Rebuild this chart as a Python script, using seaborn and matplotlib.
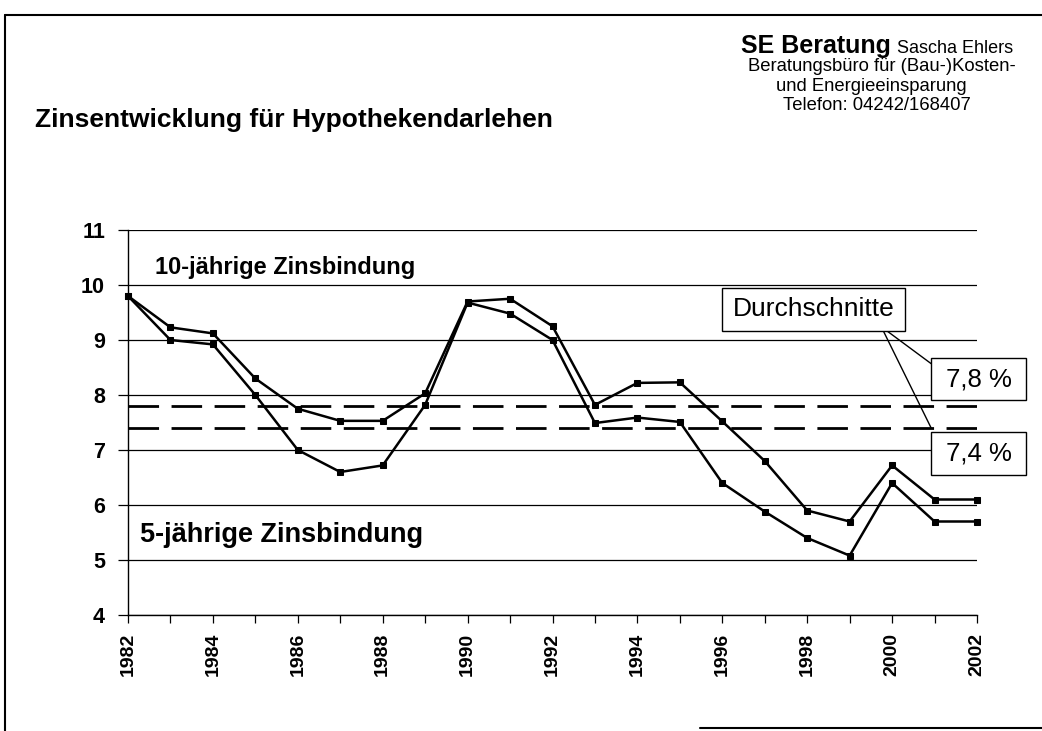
import pandas as pd
import numpy as np
import matplotlib.pyplot as plt
import seaborn as sns
from matplotlib.patches import Rectangle
from matplotlib.lines import Line2D

# Werte (Zinsen in %)
jahre = list(range(1982, 2003))
zins_10_jahre = [9.8, 9.23, 9.12, 8.3, 7.75, 7.53, 7.53, 8.03, 9.7, 9.75, 9.25,
                 7.82, 8.22, 8.23, 7.52, 6.8, 5.9, 5.7, 6.72, 6.1, 6.1]
zins_5_jahre = [9.8, 9.0, 8.92, 8.0, 7.0, 6.6, 6.72, 7.82, 9.68, 9.48, 9.0,
                7.49, 7.59, 7.51, 6.4, 5.88, 5.4, 5.08, 6.4, 5.7, 5.7]
durchschnitte = [7.8, 7.4]
durchschnitt_labels = ["7,8 %", "7,4 %"]
y_ticks = [4, 5, 6, 7, 8, 9, 10, 11]
x_tick_jahre = jahre[::2]

sns.set_style("white")
plt.rcParams['font.family'] = ['Liberation Sans', 'DejaVu Sans']
plt.rcParams.update({'text.color': 'black', 'xtick.color': 'black',
                     'ytick.color': 'black', 'axes.edgecolor': 'black',
                     'axes.labelcolor': 'black'})

df = pd.DataFrame({
    'Jahr': jahre * 2,
    'Zins': zins_10_jahre + zins_5_jahre,
    'Bindung': ['10-jährig'] * len(jahre) + ['5-jährig'] * len(jahre),
})

W, H = 1042, 731
fig = plt.figure(figsize=(W / 100, H / 100), dpi=100)


def px(x, y):
    return x / W, 1 - y / H


ax = fig.add_axes([128 / W, 1 - 615 / H, (977 - 128) / W, (615 - 230) / H])

# 1. Kurven
sns.lineplot(data=df, x='Jahr', y='Zins', hue='Bindung',
             palette=['black', 'black'], marker='s', markersize=4.5,
             markeredgecolor='black', linewidth=1.8, legend=False,
             ax=ax, clip_on=False, zorder=3)

# 2. Durchschnitte
for wert in durchschnitte:
    ax.axhline(wert, color='black', linewidth=2.0, dashes=(11, 4.5), zorder=2)

# 3. Achsen
ax.set_xlim(1982, 2002)
ax.set_ylim(4, 11)
ax.set_yticks(y_ticks)
ax.set_xticks(x_tick_jahre)
ax.set_xticks(jahre, minor=True)
ax.yaxis.grid(True, color='black', linewidth=0.9)
ax.set_axisbelow(True)
ax.set_xlabel('')
ax.set_ylabel('')
for s in ['top', 'right']:
    ax.spines[s].set_visible(False)
for s in ['left', 'bottom']:
    ax.spines[s].set_linewidth(1.0)
ax.tick_params(axis='y', which='major', left=True, direction='out', length=7,
               width=0.9, pad=9.5, labelsize=15.5)
ax.tick_params(axis='x', which='both', bottom=True, direction='out', length=6,
               width=0.9)
ax.tick_params(axis='x', which='major', pad=7, labelsize=14, labelrotation=90)
for lbl in ax.get_xticklabels() + ax.get_yticklabels():
    lbl.set_fontweight('bold')

# 4. Beschriftungen im Diagramm
ax.text(1982.64, 10.2, '10-jährige Zinsbindung', fontsize=17,
        fontweight='bold', va='baseline')
ax.text(1982.28, 5.33, '5-jährige Zinsbindung', fontsize=19.5,
        fontweight='bold', va='baseline')


def kasten(x0, x1, y0, y1, text, size):
    ax.add_patch(Rectangle((x0, y0), x1 - x0, y1 - y0, facecolor='white',
                           edgecolor='black', linewidth=1.0, clip_on=False,
                           zorder=5))
    ax.text((x0 + x1) / 2, (y0 + y1) / 2, text, ha='center', va='center',
            fontsize=size, zorder=6)


kasten(1995.99, 2000.30, 9.17, 9.95, 'Durchschnitte', 19)
kasten(2000.92, 2003.15, 7.90, 8.67, durchschnitt_labels[0], 18.5)
kasten(2000.92, 2003.15, 6.55, 7.32, durchschnitt_labels[1], 18.5)
ax.plot([1999.87, 2000.92], [9.17, 8.57], color='black', linewidth=1.0,
        clip_on=False, zorder=4)
ax.plot([1999.79, 2000.92], [9.17, 7.40], color='black', linewidth=1.0,
        clip_on=False, zorder=4)

# 5. Titel und Kopf
fig.text(*px(35, 127), 'Zinsentwicklung für Hypothekendarlehen', fontsize=19,
         fontweight='bold', va='baseline')
fig.text(*px(891, 53), 'SE Beratung', ha='right', va='baseline',
         fontsize=18, fontweight='bold')
fig.text(*px(897, 53), 'Sascha Ehlers', ha='left', va='baseline', fontsize=13)
fig.text(*px(882, 71), 'Beratungsbüro für (Bau-)Kosten-', ha='center',
         va='baseline', fontsize=13.3)
fig.text(*px(871, 91), 'und Energieeinsparung', ha='center', va='baseline',
         fontsize=13.3)
fig.text(*px(877, 110), 'Telefon: 04242/168407', ha='center', va='baseline',
         fontsize=13.3)

# 6. Rahmen
fig.add_artist(Line2D([5 / W, 5 / W], [1 - 15 / H, 0], color='black', lw=1.5))
fig.add_artist(Line2D([5 / W, 1], [1 - 15 / H, 1 - 15 / H], color='black', lw=1.5))
fig.add_artist(Line2D([700 / W, 1], [1 - 728 / H, 1 - 728 / H], color='black', lw=1.5))

fig.savefig('out.png', dpi=100)
